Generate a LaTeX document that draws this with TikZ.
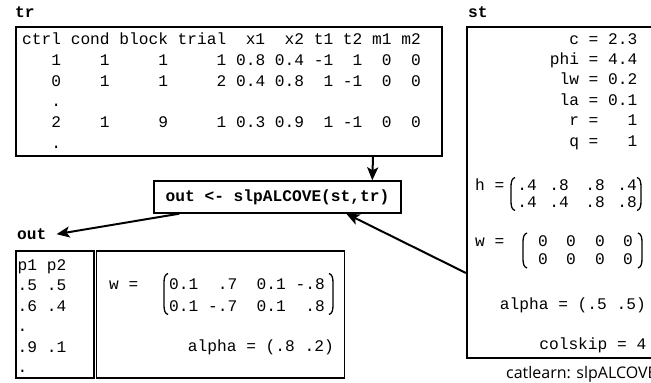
\documentclass[tikz,border=0pt]{standalone}
\usepackage{fontspec}
\setmonofont{Liberation Mono}
\newfontfamily\capfont{Open Sans}
\usetikzlibrary{arrows.meta}
\newcommand\mylp[3]{%
  \draw[parline] ({#1+3},{#2-#3/2}) .. controls ({#1},{#2-#3/2+1}) and ({#1-1},{#2-#3/2+4}) .. ({#1-1},{#2-#3/2+9})
    -- ({#1-1},{#2+#3/2-9}) .. controls ({#1-1},{#2+#3/2-4}) and ({#1},{#2+#3/2-1}) .. ({#1+3},{#2+#3/2});}
\newcommand\myrp[3]{%
  \draw[parline] ({#1-3},{#2-#3/2}) .. controls ({#1},{#2-#3/2+1}) and ({#1+1},{#2-#3/2+4}) .. ({#1+1},{#2-#3/2+9})
    -- ({#1+1},{#2+#3/2-9}) .. controls ({#1+1},{#2+#3/2-4}) and ({#1},{#2+#3/2-1}) .. ({#1-3},{#2+#3/2});}
\begin{document}
\begin{tikzpicture}[x=1pt,y=-1pt,
  box/.style={draw, line width=1.6pt, inner sep=0pt, anchor=north west},
  mono/.style={font=\fontsize{16.2}{20.7}\selectfont\ttfamily, inner sep=0pt},
  bmono/.style={font=\fontsize{16.2}{20.7}\selectfont\ttfamily\bfseries, inner sep=0pt},
  arr/.style={line width=2pt, -{Stealth[length=13pt,width=11pt,inset=3pt]}},
  parline/.style={line width=1.3pt},
  ]
\useasboundingbox (0,0) rectangle (651,383);
\clip (0,0) rectangle (651,383);

% ---- tr
\node[bmono, anchor=base west] (trlbl) at (15,17) {tr};
\node[box, minimum width=426pt, minimum height=129pt] (trbox) at (15,26) {};
\foreach \s [count=\i] in {%
ctrl cond block trial~~x1~~x2 t1 t2 m1 m2,
~~~1~~~~1~~~~~1~~~~~1 0.8 0.4 -1~~1~~0~~0,
~~~0~~~~1~~~~~1~~~~~2 0.4 0.8~~1 -1~~0~~0,
~~~.,
~~~2~~~~1~~~~~9~~~~~1 0.3 0.9~~1 -1~~0~~0,
~~~.}
  \node[mono, anchor=base west] (tr\i) at (22,{44.5+20.8*(\i-1)}) {\s};

% ---- st
\node[bmono, anchor=base west] (stlbl) at (468,17) {st};
\node[box, minimum width=200pt, minimum height=331pt] (stbox) at (466,26) {};
\foreach \s [count=\i] in {c = 2.3, phi = 4.4, lw = 0.2, la = 0.1, r =~~~1, q =~~~1}
  \node[mono, anchor=base east] (stp\i) at (637.5,{44+20.4*(\i-1)}) {\s};
\node[mono, anchor=base west] (hlbl) at (475,190.5) {h =};
\foreach \x/\a/\b [count=\i] in {527/.4/.4, 559/.8/.4, 595/.8/.8, 627/.4/.8} {
  \node[mono, anchor=base] (ha\i) at (\x,190.5) {\a};
  \node[mono, anchor=base] (hb\i) at (\x,207.5) {\b};
}
\mylp{512}{194}{33}
\myrp{640}{194}{33}
\node[mono, anchor=base west] (wlbl) at (475,246.5) {w =};
\foreach \x [count=\i] in {543,571,600,628} {
  \node[mono, anchor=base] (wa\i) at (\x,246.5) {0};
  \node[mono, anchor=base] (wb\i) at (\x,264.5) {0};
}
\mylp{524}{250.5}{35}
\myrp{641}{250.5}{35}
\node[mono, anchor=base east] (stalpha) at (646,309.5) {alpha = (.5 .5)};
\node[mono, anchor=base east] (stcol) at (646.5,349.5) {colskip = 4};

% ---- call
\node[draw, line width=1.4pt, minimum width=247pt, minimum height=32pt, inner sep=0pt, bmono] (call) at (277.5,197) {out <- slpALCOVE(st,tr)};

% ---- out
\node[bmono, anchor=base west] (outlbl) at (17,239.5) {out};
\node[box, minimum width=78pt, minimum height=127pt] (outL) at (15,250) {};
\node[box, minimum width=248pt, minimum height=127pt] (outR) at (95.5,250) {};
\foreach \s [count=\i] in {p1 p2, .5 .5, .6 .4, ., .9 .1, .}
  \node[mono, anchor=base west] (p\i) at (17.5,{270.5+20.4*(\i-1)}) {\s};
\node[mono, anchor=base west] (owlbl) at (109,289.5) {w =};
\node[mono, anchor=base west] (owr1) at (169,289.5) {0.1~~.7~~0.1 -.8};
\node[mono, anchor=base west] (owr2) at (169,311.5) {0.1 -.7~~0.1~~.8};
\mylp{165}{294}{41}
\myrp{332}{294}{41}
\node[mono, anchor=base east] (oalpha) at (334,351.5) {alpha = (.8 .2)};

% ---- caption
\node[font=\fontsize{16}{19}\selectfont\capfont, inner sep=0pt, anchor=base west] (cap) at (506,378) {catlearn: slpALCOVE};

% ---- connectors
\draw[arr] ([xshift=358pt]trbox.south west) -- ([xshift=219pt]call.north west);
\draw[arr] ([yshift=-247pt]stbox.north west) -- ([xshift=193pt]call.south west);
\draw[arr] ([xshift=26pt]call.south west) -- ([xshift=10pt]outlbl.east);
\end{tikzpicture}
\end{document}
